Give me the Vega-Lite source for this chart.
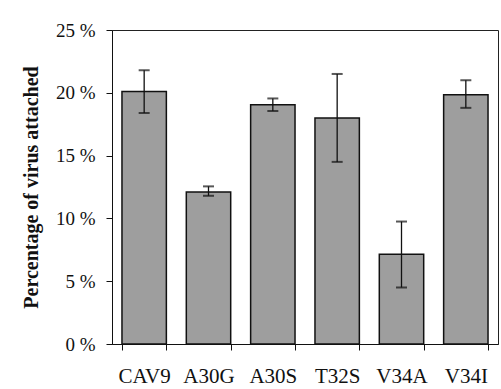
{
  "$schema": "https://vega.github.io/schema/vega-lite/v6.json",
  "autosize": "none",
  "width": 386,
  "height": 314,
  "padding": {"left": 112, "top": 30, "right": 3, "bottom": 45},
  "background": "white",
  "config": {
    "view": {"stroke": "#222", "strokeWidth": 1},
    "font": "Liberation Serif",
    "axis": {
      "domainColor": "#111",
      "tickColor": "#111",
      "labelColor": "#111",
      "labelFont": "Liberation Serif",
      "grid": false
    }
  },
  "data": {
    "values": [
      {"virus": "CAV9", "pct": 20.1, "lo": 18.4, "hi": 21.8},
      {"virus": "A30G", "pct": 12.1, "lo": 11.8, "hi": 12.55},
      {"virus": "A30S", "pct": 19.05, "lo": 18.55, "hi": 19.55},
      {"virus": "T32S", "pct": 18.0, "lo": 14.5, "hi": 21.5},
      {"virus": "V34A", "pct": 7.15, "lo": 4.5, "hi": 9.75},
      {"virus": "V34I", "pct": 19.85, "lo": 18.8, "hi": 21.0}
    ]
  },
  "encoding": {
    "x": {
      "field": "virus",
      "type": "nominal",
      "sort": null,
      "scale": {"paddingInner": 0.31, "paddingOuter": 0.155},
      "axis": {
        "title": null,
        "labelAngle": 0,
        "labelFontSize": 21,
        "labelPadding": 15,
        "tickBand": "extent",
        "tickSize": 6,
        "domain": true
      }
    }
  },
  "layer": [
    {
      "mark": {"type": "bar", "fill": "#9e9e9e", "stroke": "#111", "strokeWidth": 1.5},
      "encoding": {
        "y": {
          "field": "pct",
          "type": "quantitative",
          "scale": {"domain": [0, 25], "nice": false},
          "axis": {
            "title": "Percentage of virus attached",
            "titleFont": "Liberation Serif",
            "titleFontSize": 20,
            "titleFontWeight": "bold",
            "titleColor": "#111",
            "titlePadding": 14,
            "values": [0, 5, 10, 15, 20, 25],
            "labelExpr": "datum.value + ' %'",
            "labelFontSize": 19,
            "labelPadding": 11,
            "tickSize": 6
          }
        }
      }
    },
    {
      "mark": {"type": "rule", "stroke": "#111", "strokeWidth": 1.3},
      "encoding": {
        "y": {"field": "lo", "type": "quantitative"},
        "y2": {"field": "hi"}
      }
    },
    {
      "mark": {"type": "tick", "color": "#111", "size": 11, "thickness": 2},
      "encoding": {"y": {"field": "lo", "type": "quantitative"}}
    },
    {
      "mark": {"type": "tick", "color": "#111", "size": 11, "thickness": 2},
      "encoding": {"y": {"field": "hi", "type": "quantitative"}}
    }
  ]
}
